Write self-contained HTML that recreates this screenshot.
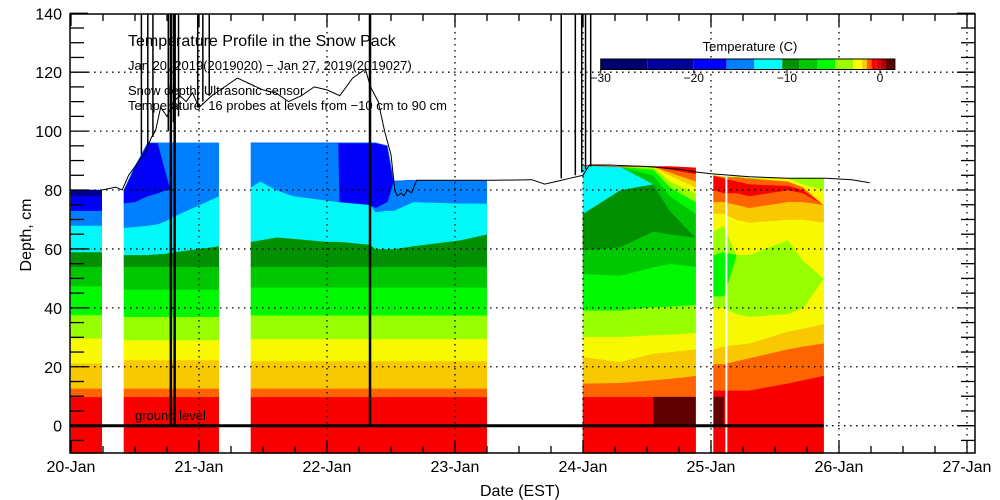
<!DOCTYPE html>
<html><head><meta charset="utf-8"><style>
html,body{margin:0;padding:0;background:#fff;}
svg{display:block;font-family:"Liberation Sans",sans-serif;}
</style></head><body>
<svg id="chart" width="1000" height="500" viewBox="0 0 1000 500">
<g id="bands"></g>
<g id="grid"></g>
<g id="lines"></g>
<g id="axes"></g>
<g id="legend"></g>
<text x="128" y="46" font-size="16">Temperature Profile in the Snow Pack</text>
<text x="128" y="70" font-size="13">Jan 20, 2019(2019020) − Jan 27, 2019(2019027)</text>
<text x="128" y="95" font-size="13">Snow depth: Ultrasonic sensor</text>
<text x="128" y="110" font-size="13">Temperature: 16 probes at levels from −10 cm to 90 cm</text>
<text x="135" y="420" font-size="13">ground level</text>
<text x="520" y="496" font-size="16" text-anchor="middle">Date (EST)</text>
<text x="31" y="235" font-size="16" text-anchor="middle" transform="rotate(-90 31 235)">Depth, cm</text>
</svg>
<script>
const C={red:'#f80000',org:'#ff6400',dky:'#f8c800',yel:'#f8f800',yg:'#98ff00',grn:'#00f800',mgr:'#00c800',dgr:'#009000',cya:'#00f8f8',lb:'#0080ff',blu:'#0000f8',nav:'#000090',dred:'#600000'};
const segAColors=['red','org','dky','yel','yg','grn','mgr','dgr','cya','lb','blu','nav'];
const segADays=[0,0.24];
const segATops=[[9.8,12.7,21.2,29.7,37.6,47.4,54,59,68,73,78,80],[9.8,12.7,21.2,29.7,37.6,47.4,54,59,68,73,78,80]];
const segBColors=['red','org','dky','yel','yg','grn','mgr','dgr','cya','lb','blu','lb'];
const segBDays=[0.414,0.5,0.6,0.68,0.74,0.78,0.9,1.154];
const segBTops=[
[9.8,12.7,22.3,29.1,37,46.3,54,58,67.2,75.6,80,80],
[9.8,12.7,22.3,29.1,37,46.3,54,58,67.5,76,88,88],
[9.8,12.7,22.3,29.1,37,46.3,54,58,68,78,96,96],
[9.8,12.7,22.3,29.1,37,46.3,54,58.3,68.5,79,96,96],
[9.8,12.7,22.3,29.1,37,46.3,54,58.5,69.5,80,86,96],
[9.8,12.7,22.3,29.1,37,46.3,54,58.8,70.5,80,80,96],
[9.8,12.7,22.3,29.1,37,46.3,54,59.5,73,73,73,96],
[9.8,12.7,22.3,29.1,37,46.3,54,61,78,78,78,96]];
const segCColors=['red','org','dky','yel','yg','grn','mgr','dgr','cya','lb','blu','lb'];
const segCDays=[1.406,1.477,1.607,1.737,1.998,2.09,2.1,2.336,2.38,2.47,2.52,2.674,3.04,3.248];
const segCTops=[
[9.8,12.7,22,29.5,37.5,47,54,62.5,81,96,96,96],
[9.8,12.7,22,29.5,37.5,47,54,63,83,96,96,96],
[9.8,12.7,22,29.5,37.5,47,54,64,80,96,96,96],
[9.8,12.7,22,29.5,37.5,47,54,63.5,78,96,96,96],
[9.8,12.7,22,29.5,37.5,47,54,62.5,76.5,96,96,96],
[9.8,12.7,22,29.5,37.5,47,54,62.5,76,96,96,96],
[9.8,12.7,22,29.5,37.5,47,54,62.5,76,76,96,96],
[9.8,12.7,22,29.5,37.5,47,54,61.5,75,75,96,96],
[9.8,12.7,22,29.5,37.5,47,54,60,72.6,74,96,96],
[9.8,12.7,22,29.5,37.5,47,54,60,73,76,95,95],
[9.8,12.7,22,29.5,37.5,47,54,60,73,83,83,83],
[9.8,12.7,22,29.5,37.5,47,54,61,76,83.3,83.3,83.3],
[9.8,12.7,22,29.5,37.5,47,54,63,75.5,83.3,83.3,83.3],
[9.8,12.7,22,29.5,37.5,47,54,65,75.5,83.3,83.3,83.3]];
const segDColors=['red','org','dky','yel','yg','grn','mgr','dgr','cya','mgr','grn','yg','yel','dky','org','red'];
const segDDays=[4.0,4.29,4.55,4.68,4.88];
const segDTops=[
[9.8,14.4,23.4,30.2,39.2,51.6,59.6,72,88.4,88.4,88.4,88.4,88.4,88.4,88.4,88.4],
[9.8,14.6,21.7,30.2,39.2,51,60.7,80,88,88,88,88,88,88,88,88],
[9.8,15.5,24.5,30.8,40.3,53.9,66,82,82,85,87,88,88,88,88,88],
[9.8,16,25,31,40.5,55,65,73,73,78,81,83,85,86,87,88],
[9.8,17,26,31.5,41,54,64,64,64,72,76,79,81,83,85.5,87.5]];
const segEColors=['red','org','dky','yel','yg','grn','yg','yel','dky','org','red','org','yel','yg'];
const segEDays=[5.02,5.1,5.2,5.3,5.6,5.72,5.88];
const segETops=[
[12,21,26,40,44,58,66,72,76,80,85,85,85,85],
[12,21,27,40,44,59,68,72,76,79,84,84.5,84.5,84.5],
[12,22,27.5,38,58,58,58,70,75,79,83,84.5,84.5,84.5],
[12,23,28,37,58,58,58,69,74,78,82,84,84,84],
[14.4,26,32,38,63,63,63,70,76,80,81.5,83,84,84],
[15.5,27,33,40,56,56,56,70,76,79,80,81,82,84],
[17,28,34.6,50,50,50,50,69,75,75,75,75,80,84]];
const darkCellDays=[[4.55,4.88],[5.02,5.1]];
const darkCellDepth=[0,9.8];
const snowDays=[0.24,0.3,0.35,0.4,0.42,0.45,0.5,0.55,0.58,0.6,0.63,0.66,0.7,0.75,0.8,0.85,0.9,0.95,1.0,1.1,1.2,1.3,1.4,1.5,1.6,1.7,1.8,1.9,2.0,2.1,2.2,2.3,2.34,2.4,2.45,2.5,2.53,2.55,2.58,2.6,2.63,2.66,2.7,3.0,3.3,3.6,3.7,3.8,3.9,4.0,4.05,4.2,4.5,4.76,4.9,5.0,5.3,5.6,5.9,6.1,6.24];
const snowDepth=[80,80.5,81,80,82,85,88,91,92,95,98,100,108,105,110,112,110,113,108,112,115,118,116,114,113,110,112,115,114,112,118,121,115,110,100,92,80,78,79,78,80,79,83.3,83.3,83.3,83.5,82,83,84,85,88.5,88.5,88,87,86,85.5,84.5,84,84,83.5,82.5];
const spikeDays=[0.55,0.6,0.64,0.76,0.78,0.8,0.81,0.84,0.99,1.03,1.08,2.336,3.83,3.94,3.99,4.02,4.06];
const spikeBottoms=[92,95,98,100,0,103,0,105,108,110,112,0,84,85,86,87,88];

const NS='http://www.w3.org/2000/svg';
function xS(t){return 71+128*t;}
function yS(d){return 425.7-2.946*d;}
const X0=70,X1=975,Y0=14,Y1=453;
function mk(tag,attrs,parent){const e=document.createElementNS(NS,tag);for(const k in attrs)e.setAttribute(k,attrs[k]);parent.appendChild(e);return e;}
const bands=document.getElementById('bands');
function drawSeg(name,colors,days,tops){
  const g=mk('g',{},bands);
  
  
  for(let i=0;i<colors.length;i++){
    let pts=[];
    for(let k=0;k<days.length;k++)pts.push(xS(days[k]).toFixed(1)+','+yS(tops[k][i]).toFixed(1));
    for(let k=days.length-1;k>=0;k--){const lo=i===0?-9.4:tops[k][i-1];pts.push(xS(days[k]).toFixed(1)+','+yS(lo).toFixed(1));}
    const p=mk('polygon',{points:pts.join(' '),fill:C[colors[i]],stroke:C[colors[i]],'stroke-width':0.6},g);
    
    
  }
}
drawSeg('segment-jan20',segAColors,segADays,segATops);
drawSeg('segment-jan20-21',segBColors,segBDays,segBTops);
drawSeg('segment-jan21-23',segCColors,segCDays,segCTops);
drawSeg('segment-jan24',segDColors,segDDays,segDTops);
drawSeg('segment-jan25',segEColors,segEDays,segETops);
darkCellDays.forEach(function(r){
  const c=mk('rect',{x:xS(r[0]),y:yS(darkCellDepth[1]),width:xS(r[1])-xS(r[0]),height:yS(darkCellDepth[0])-yS(darkCellDepth[1]),fill:C.dred},bands);
  
  
});
const wl=mk('line',{x1:xS(5.12),x2:xS(5.12),y1:yS(85),y2:Y1,stroke:'#fff','stroke-width':2},bands);



const grid=document.getElementById('grid');
const yGrid=[20,40,60,80,100,120];
yGrid.forEach(function(v){const l=mk('line',{x1:X0,x2:X1,y1:yS(v),y2:yS(v),stroke:'#000','stroke-width':1.3,'stroke-dasharray':'1.5,4.5'},grid);});
mk('line',{x1:X0,x2:X1,y1:yS(0),y2:yS(0),stroke:'#000','stroke-width':1.3,'stroke-dasharray':'1.5,4.5'},grid);
const dayTicks=[0,1,2,3,4,5,6,7];
const dayLabels=['20-Jan','21-Jan','22-Jan','23-Jan','24-Jan','25-Jan','26-Jan','27-Jan'];
dayTicks.forEach(function(d){if(d===0)return;const l=mk('line',{x1:xS(d),x2:xS(d),y1:Y0,y2:Y1,stroke:'#000','stroke-width':1.3,'stroke-dasharray':'1.5,4.5'},grid);});

const lines=document.getElementById('lines');
const gl=mk('line',{x1:X0,x2:xS(5.88),y1:yS(0),y2:yS(0),stroke:'#000','stroke-width':3},lines);


spikeDays.forEach(function(d,i){
  const l=mk('line',{x1:xS(d),x2:xS(d),y1:Y0,y2:yS(spikeBottoms[i]),stroke:'#000','stroke-width':spikeBottoms[i]===0?2.5:1.5},lines);
  
  
});
const sp=snowDays.map(function(d,i){return xS(d).toFixed(1)+','+yS(snowDepth[i]).toFixed(1);}).join(' ');
const sl=mk('polyline',{points:sp,fill:'none',stroke:'#000','stroke-width':1},lines);



const axes=document.getElementById('axes');
const fr=mk('rect',{x:X0,y:Y0,width:X1-X0,height:Y1-Y0,fill:'none',stroke:'#000','stroke-width':1.5},axes);


const yTicks=[0,20,40,60,80,100,120,140];
for(let v=-5;v<=140;v+=5){
  const len=v%20===0?18:14;
  mk('line',{x1:X0,x2:X0+len,y1:yS(v),y2:yS(v),stroke:'#000','stroke-width':1.3},axes);
  mk('line',{x1:X1,x2:X1-len,y1:yS(v),y2:yS(v),stroke:'#000','stroke-width':1.3},axes);
}
yTicks.forEach(function(v){const t=mk('text',{x:62,y:yS(v)+6,'font-size':16,'text-anchor':'end'},axes);t.textContent=v;});
for(let q=0;q<=28;q++){
  const d=q/4;const len=q%4===0?12:7;
  if(xS(d)>X1)break;
  mk('line',{x1:xS(d),x2:xS(d),y1:Y1,y2:Y1-len,stroke:'#000','stroke-width':1.3},axes);
  mk('line',{x1:xS(d),x2:xS(d),y1:Y0,y2:Y0+len,stroke:'#000','stroke-width':1.3},axes);
}
dayTicks.forEach(function(d,i){const t=mk('text',{x:xS(d),y:472,'font-size':16,'text-anchor':'middle'},axes);t.textContent=dayLabels[i];});

const legend=document.getElementById('legend');
const legBounds=[-30,-25,-20,-16.5,-13.5,-10.5,-8.7,-6.7,-4.8,-2.9,-1.9,-1.4,-0.9,-0.4,0.1,0.6,1.6];
const legColors=['#00006e','#00009a','#0000ff','#0080ff','#00ffff','#009000','#00c800','#00ff00','#99ff00','#ffff00','#ffc800','#ff6000','#ff0000','#e00000','#b00000','#600000'];
const legTicks=[-30,-20,-10,0];
function lx(v){return 600.7+9.31*(v+30);}
legColors.forEach(function(c,i){const r=mk('rect',{x:lx(legBounds[i]),y:59,width:lx(legBounds[i+1])-lx(legBounds[i]),height:10.5,fill:c},legend);});
mk('rect',{x:lx(-30),y:59,width:lx(1.6)-lx(-30),height:10.5,fill:'none',stroke:'#000','stroke-width':1},legend);
legTicks.forEach(function(v){
  mk('line',{x1:lx(v),x2:lx(v),y1:69,y2:73,stroke:'#000'},legend);
  const t=mk('text',{x:lx(v),y:82,'font-size':12,'text-anchor':'middle'},legend);t.textContent=v===0?'0':'−'+Math.abs(v);
  
  
});
const lt=mk('text',{x:750,y:51,'font-size':13,'text-anchor':'middle'},legend);lt.textContent='Temperature (C)';


</script>
</body></html>
